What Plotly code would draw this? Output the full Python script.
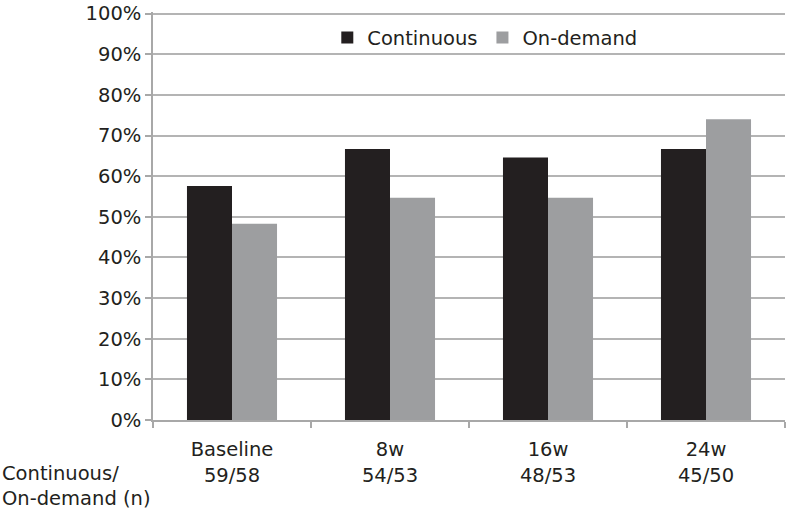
import plotly.graph_objects as go

categories = ["Baseline<br>59/58", "8w<br>54/53", "16w<br>48/53", "24w<br>45/50"]
continuous = [0.576, 0.667, 0.646, 0.667]
on_demand = [0.483, 0.547, 0.547, 0.74]
y_ticks = [i / 10 for i in range(11)]
y_labels = [f"{i*10}%" for i in range(11)]

FONT = dict(family="DejaVu Sans, sans-serif", size=19.5, color="#231f20")
Y_TOP = 1.004

fig = go.Figure()
fig.add_trace(go.Bar(name="Continuous", x=categories, y=continuous, marker=dict(color="#231f20", line=dict(width=0))))
fig.add_trace(go.Bar(name="On-demand", x=categories, y=on_demand, marker=dict(color="#9d9ea0", line=dict(width=0))))

fig.update_layout(
    width=787, height=511,
    margin=dict(l=153, r=2, t=8, b=91),
    paper_bgcolor="white", plot_bgcolor="white",
    font=FONT,
    barmode="group", bargap=0.43, bargroupgap=0,
    showlegend=True,
    legend=dict(orientation="h", x=0.525, y=0.937, xanchor="center", yanchor="middle",
                bgcolor="rgba(0,0,0,0)", font=FONT, itemwidth=30, traceorder="normal"),
    xaxis=dict(showline=True, linecolor="#a8a8a8", linewidth=1.5, ticks="outside", ticklen=6,
               tickcolor="#a8a8a8", tickwidth=1.5, tickson="boundaries", showgrid=False,
               ticklabelstandoff=11, tickfont=FONT),
    yaxis=dict(range=[0, Y_TOP], tickvals=y_ticks, ticktext=y_labels, showline=True, linecolor="#a8a8a8",
               linewidth=1.5, ticks="outside", ticklen=6, tickcolor="#a8a8a8", tickwidth=1.5,
               showgrid=True, gridcolor="#b4b4b4", gridwidth=1.5, zeroline=False, tickfont=FONT,
               ticklabeloverflow="allow"),
)

fig.add_annotation(text="Continuous/<br>On-demand (n)", xref="paper", yref="paper",
                   x=-153/632, y=-(511 - 420 + 2) / (411 * Y_TOP), xanchor="left", yanchor="bottom",
                   align="left", showarrow=False, font=FONT)

post = ("document.body.style.margin='0';document.body.style.overflow='hidden';"
        "Plotly.relayout('{plot_id}', {width:787, height:511});")
fig.write_html("out.html", post_script=post, default_width="787px", default_height="511px",
               config={"displayModeBar": False})
